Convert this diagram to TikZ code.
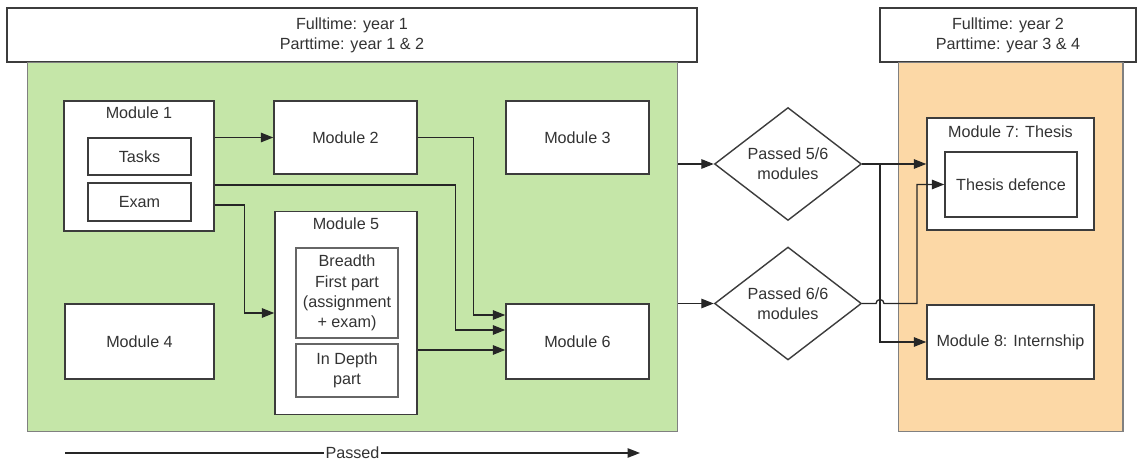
\documentclass[tikz,border=0pt]{standalone}
\usepackage{fontspec}
\setmainfont{Liberation Sans}
\usepackage{tikz}
\usetikzlibrary{shapes.geometric,arrows.meta}

\definecolor{yearonegreen}{RGB}{197,230,168}
\definecolor{yeartwoorange}{RGB}{252,216,166}
\definecolor{boxline}{RGB}{60,60,60}

\tikzset{
  modbox/.style={rectangle, draw=boxline, line width=0.8pt, fill=white, inner sep=2pt},
  header/.style={rectangle, draw=boxline, line width=0.7pt, fill=white, align=center},
  yearbox/.style={rectangle, draw=black!50, line width=0.6pt},
  decision/.style={diamond, draw=boxline, line width=0.8pt, fill=white, align=center, inner sep=0pt},
  flow/.style={draw=black!85, line width=0.75pt, -{Triangle[length=0.25cm,width=0.19cm]}},
}

\begin{document}
\begin{tikzpicture}[x=0.02cm, y=-0.02cm, font=\fontsize{9.2}{11.5}\selectfont, text=black!80]

\useasboundingbox (0,0) rectangle (1137,462);

% Blocchi anni
\node[header, minimum width=13.8cm, minimum height=1.08cm] (head1) at (352,35) {Fulltime: year 1\\Parttime: year 1 \& 2};
\node[yearbox, fill=yearonegreen, minimum width=13.02cm, minimum height=7.4cm] (green) at (352.5,247) {};
\node[header, minimum width=5.12cm, minimum height=1.08cm] (head2) at (1008,35) {Fulltime: year 2\\Parttime: year 3 \& 4};
\node[yearbox, fill=yeartwoorange, minimum width=4.5cm, minimum height=7.4cm] (orange) at (1010.5,247) {};

% Moduli anno 1
\node[modbox, minimum width=3cm, minimum height=2.6cm] (m1) at (139,166) {};
\node (m1t) at (139,113) {Module 1};
\node[modbox, minimum width=2.06cm, minimum height=0.74cm] (tasks) at (139.5,156.5) {Tasks};
\node[modbox, minimum width=2.06cm, minimum height=0.76cm] (exam) at (139.5,202) {Exam};
\node[modbox, minimum width=2.86cm, minimum height=1.46cm] (m2) at (345.5,137.5) {Module 2};
\node[modbox, minimum width=2.86cm, minimum height=1.46cm] (m3) at (577.5,137.5) {Module 3};
\node[modbox, minimum width=2.98cm, minimum height=1.5cm] (m4) at (139.5,341.5) {Module 4};
\node[modbox, minimum width=2.84cm, minimum height=4.06cm] (m5) at (346,313) {};
\node (m5t) at (346,224) {Module 5};
\node[modbox, draw=black!60, align=center, minimum width=2.04cm, minimum height=1.8cm] (breadth) at (347,293) {Breadth\\First part\\(assignment\\+ exam)};
\node[modbox, draw=black!60, align=center, minimum width=2.04cm, minimum height=1.06cm] (depth) at (347,370.5) {In Depth\\part};
\node[modbox, minimum width=2.86cm, minimum height=1.5cm] (m6) at (577.5,341.5) {Module 6};

% Decisioni
\node[decision, minimum width=2.94cm, minimum height=2.24cm] (d1) at (788,164) {Passed 5/6\\modules};
\node[decision, minimum width=2.94cm, minimum height=2.22cm] (d2) at (788,303.5) {Passed 6/6\\modules};

% Moduli anno 2
\node[modbox, minimum width=3.34cm, minimum height=2.24cm] (m7) at (1010.5,174) {};
\node (m7t) at (1010.5,132) {Module 7: Thesis};
\node[modbox, minimum width=2.64cm, minimum height=1.3cm] (defence) at (1011,184.5) {Thesis defence};
\node[modbox, minimum width=3.34cm, minimum height=1.48cm] (m8) at (1010.5,342) {Module 8: Internship};

% Punti di aggancio
\coordinate (m1out2) at ([yshift=-0.38cm]m1.east);
\coordinate (m1out3) at ([yshift=-0.78cm]m1.east);
\coordinate (m6in1) at ([yshift=0.53cm]m6.west);
\coordinate (m6in2) at ([yshift=0.23cm]m6.west);
\coordinate (m6in3) at ([yshift=-0.17cm]m6.west);
\coordinate (split) at (880,164);
\coordinate (passstart) at (65,453);
\coordinate (passend) at (640,453);

% Archi
\draw[flow] (m1.east |- m2.west) -- (m2.west);
\draw[flow] (m1out2) -- ++(241,0) |- (m6in2);
\draw[flow] (m1out3) -- ++(30,0) |- (m5.west);
\draw[flow] (m2.east) -- ++(56,0) |- (m6in1);
\draw[flow] (m5.east |- m6in3) -- (m6in3);
\draw[flow] (green.east |- d1.west) -- (d1.west);
\draw[flow] (green.east |- d2.west) -- (d2.west);
\draw[flow] (d1.east) -- (m7.west |- d1.east);
\draw[flow] (d1.east) -- (split) |- (m8.west);
\draw[flow] (d2.east) -- ([xshift=-0.08cm]split |- d2.east) arc[start angle=180, end angle=0, radius=0.08cm] -- ++(33,0) |- (defence.west);
\draw[flow] (passstart) -- node[fill=white, inner sep=1pt] {Passed} (passend);

\end{tikzpicture}
\end{document}
